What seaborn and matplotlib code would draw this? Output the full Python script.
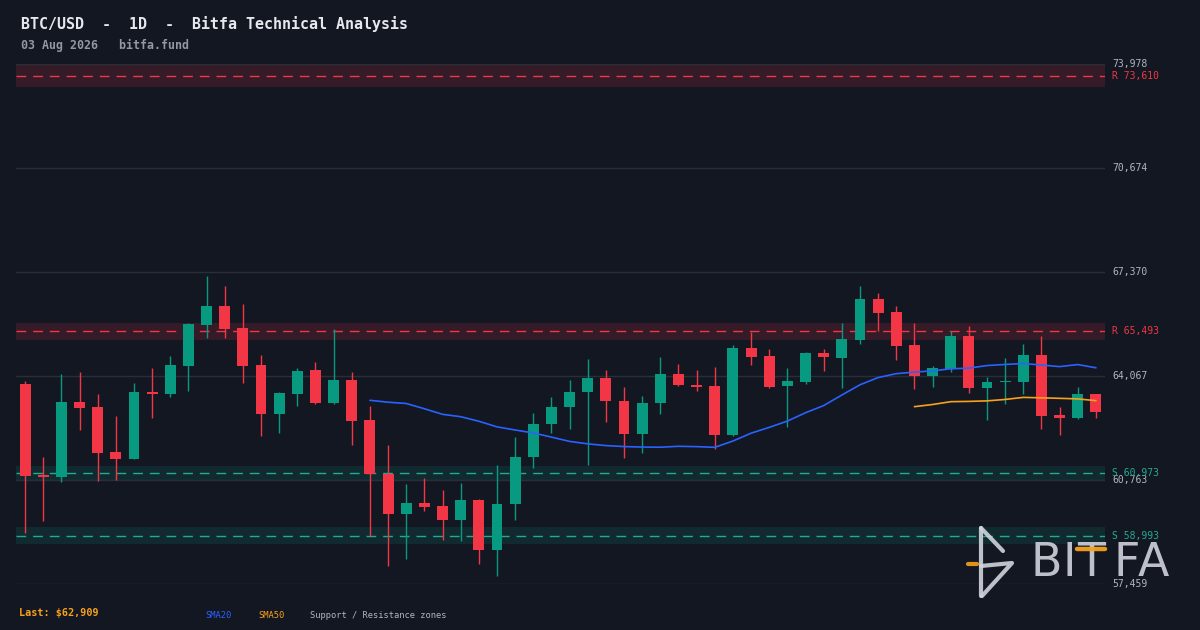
import numpy as np
import pandas as pd
import matplotlib
matplotlib.use("Agg")
import matplotlib.pyplot as plt
import seaborn as sns
from matplotlib.lines import Line2D

# ---------------- data ----------------
opens = [63812, 60931, 60847, 63240, 63081, 61652, 61439, 63558, 63494, 64384,
         65686, 66290, 65591, 64416, 62859, 63494, 64257, 63208, 63939, 62668,
         60962, 59691, 60031, 59936, 59501, 60127, 58548, 60000, 61493, 62541,
         63081, 63558, 64003, 63281, 62233, 63208, 64130, 63780, 63748, 62201,
         64956, 64701, 63758, 63885, 64806, 64647, 65220, 66512, 66099, 65051,
         64076, 64288, 65337, 63694, 63875, 63885, 64733, 62837, 62741, 63494]
highs = [63907, 61493, 64130, 64193, 63494, 62795, 63844, 64320, 64701, 65750,
         67243, 66925, 66353, 64733, 63558, 64320, 64511, 65559, 64193, 63113,
         61874, 60635, 60826, 60444, 60667, 60159, 61239, 62128, 62891, 63399,
         63939, 64606, 64257, 63717, 63431, 64670, 64447, 64257, 64352, 65051,
         65473, 64924, 64320, 64838, 64924, 65750, 66925, 66703, 66290, 65750,
         64384, 65495, 65655, 64034, 64638, 65083, 65337, 63091, 63726, 63494]
lows = [59088, 59469, 60708, 62360, 60740, 60772, 61420, 62741, 63399, 63590,
        65273, 65273, 63844, 62160, 62255, 63113, 63176, 63180, 61874, 58992,
        58040, 58262, 59787, 58865, 58834, 58103, 57722, 59501, 61153, 62265,
        62392, 61248, 62614, 61471, 61629, 62868, 63758, 63590, 61756, 62169,
        64425, 63694, 62455, 63822, 64234, 63694, 65092, 65486, 64584, 63662,
        63726, 64202, 63535, 62678, 63186, 63504, 62392, 62201, 62710, 62741]
closes = [60899, 60847, 63240, 63059, 61629, 61439, 63558, 63494, 64416, 65718,
          66290, 65559, 64384, 62859, 63526, 64225, 63208, 63939, 62636, 60962,
          59691, 60031, 59914, 59501, 60127, 58548, 60000, 61493, 62541, 63081,
          63558, 64003, 63281, 62233, 63208, 64130, 63790, 63725, 62201, 64956,
          64679, 63726, 63907, 64806, 64679, 65242, 66512, 66077, 65029, 64076,
          64320, 65337, 63694, 63875, 63907, 64733, 62805, 62741, 63494, 62909]

resistance_levels = [73610, 65493]
resistance_halfwidths = [350, 270]
support_levels = [60973, 58993]
support_halfwidths = [220, 270]

y_ticks = [57459, 60763, 64067, 67370, 70674, 73978]
y_tick_labels = ["57,459", "60,763", "64,067", "67,370", "70,674", "73,978"]

title_text = "BTC/USD  -  1D  -  Bitfa Technical Analysis"
subtitle_text = "03 Aug 2026   bitfa.fund"
last_text = "Last: $62,909"
logo_letters = ["B", "I", "T", "F", "A"]

# ---------------- style ----------------
BG = "#131722"
GRID = "#2a2e39"
UP = "#089981"
DOWN = "#f23645"
SUP = "#22ab94"
BLUE = "#2962ff"
ORANGE = "#f7a21b"
TXT = "#b2b5be"
MONO = ["DejaVu Sans Mono"]

sns.set_theme(style="dark", rc={"axes.facecolor": BG, "figure.facecolor": BG})
plt.rcParams["font.family"] = MONO

df = pd.DataFrame({"open": opens, "high": highs, "low": lows, "close": closes})
df["idx"] = np.arange(len(df))
df["sma20"] = df["close"].rolling(20).mean()
df["sma50"] = df["close"].rolling(50).mean()

fig = plt.figure(figsize=(12, 6.3), dpi=100)
ax = fig.add_axes([16 / 1200, 1 - 584 / 630, (1105 - 16) / 1200, 520 / 630])
ax.set_facecolor(BG)

# zones
for lvl, hw in zip(resistance_levels, resistance_halfwidths):
    ax.axhspan(lvl - hw, lvl + hw, color=DOWN, alpha=0.15, lw=0, zorder=1)
    ax.axhline(lvl, color=DOWN, lw=1, dashes=(7, 5), zorder=2)
for lvl, hw in zip(support_levels, support_halfwidths):
    ax.axhspan(lvl - hw, lvl + hw, color=UP, alpha=0.15, lw=0, zorder=1)
    ax.axhline(lvl, color=SUP, lw=1, dashes=(7, 5), zorder=2)

# grid
for t in y_ticks:
    ax.axhline(t, color=GRID, lw=1, zorder=0.5)

# candles
colors = [UP if c >= o else DOWN for o, c in zip(df["open"], df["close"])]
ax.vlines(df["idx"], df["low"], df["high"], colors=colors, lw=1, zorder=3)
bottoms = np.minimum(df["open"], df["close"])
heights = np.maximum(np.abs(df["close"] - df["open"]), 45)
ax.bar(df["idx"], heights, bottom=bottoms, width=0.6, color=colors, lw=0, zorder=4)

# SMAs
sns.lineplot(data=df, x="idx", y="sma20", color=BLUE, lw=1.2, ax=ax, zorder=5)
sns.lineplot(data=df, x="idx", y="sma50", color=ORANGE, lw=1.2, ax=ax, zorder=5)

ax.set_xlim(-0.5, 59.5)
ax.set_ylim(y_ticks[0], y_ticks[-1])
ax.set_xticks([])
ax.set_yticks([])
ax.set_xlabel("")
ax.set_ylabel("")
for s in ax.spines.values():
    s.set_visible(False)

# right labels
trans = ax.get_yaxis_transform()
for t, lab in zip(y_ticks, y_tick_labels):
    ax.text(1.0065, t, lab, transform=trans, color=TXT, fontsize=7, va="center",
            ha="left", clip_on=False)
for lvl in resistance_levels:
    ax.text(1.0065, lvl, f"R {lvl:,}", transform=trans, color=DOWN, fontsize=7,
            va="center", ha="left", clip_on=False)
for lvl in support_levels:
    ax.text(1.0065, lvl, f"S {lvl:,}", transform=trans, color=SUP, fontsize=7,
            va="center", ha="left", clip_on=False)

# titles
fig.text(21 / 1200, 1 - 24 / 630, title_text, color="#e6e8ee", fontsize=10.8,
         fontweight="bold", va="center", ha="left")
fig.text(21 / 1200, 1 - 45 / 630, subtitle_text, color="#9598a1", fontsize=8.4,
         fontweight="bold", va="center", ha="left")

# footer legend
fig.text(19 / 1200, 1 - 613 / 630, last_text, color=ORANGE, fontsize=7.3,
         fontweight="bold", va="center", ha="left")
fig.text(205 / 1200, 1 - 615 / 630, "SMA20", color=BLUE, fontsize=6.3,
         va="center", ha="left")
fig.text(258 / 1200, 1 - 615 / 630, "SMA50", color=ORANGE, fontsize=6.3,
         va="center", ha="left")
fig.text(310 / 1200, 1 - 615 / 630, "Support / Resistance zones", color=TXT,
         fontsize=6.3, va="center", ha="left")

# watermark logo
def P(x, y):
    return (x / 1200, 1 - y / 630)

def seg_line(points, color, lw, alpha, z=10):
    xs = [P(*p)[0] for p in points]
    ys = [P(*p)[1] for p in points]
    fig.add_artist(Line2D(xs, ys, transform=fig.transFigure, color=color,
                          lw=lw, alpha=alpha, solid_capstyle="round",
                          solid_joinstyle="round", zorder=z))

LOGO = "#d1d4dc"
seg_line([(981, 528), (981, 596)], LOGO, 3, 0.9)
seg_line([(981, 528), (1003, 551)], LOGO, 3, 0.9)
seg_line([(981, 566), (1012, 563), (982, 596)], LOGO, 3, 0.9)
seg_line([(968, 564), (977, 564)], ORANGE, 3, 0.9)

letter_centers = [1046, 1069, 1091, 1127, 1153]
for ch, cx in zip(logo_letters, letter_centers):
    fig.text(cx / 1200, 1 - 564 / 630, ch, color=LOGO, alpha=0.9, fontsize=33,
             family=["DejaVu Sans"], va="center", ha="center", zorder=10)
seg_line([(1077, 548.5), (1105, 548.5)], ORANGE, 3.2, 0.95, z=11)

fig.savefig("out.png", dpi=100, facecolor=BG)
